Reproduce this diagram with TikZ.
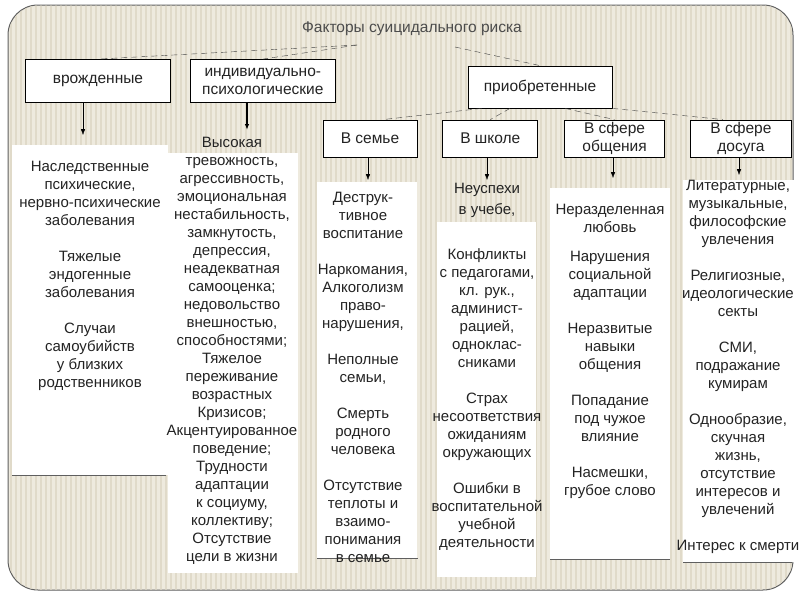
\documentclass[tikz,border=0pt]{standalone}
\usepackage{fontspec}
\setmainfont{Liberation Sans}
\usetikzlibrary{positioning,arrows.meta}
\definecolor{paper}{RGB}{238,234,222}
\definecolor{stripe}{RGB}{224,218,201}
\definecolor{rim}{RGB}{95,95,95}
\definecolor{ink}{RGB}{35,35,35}
\def\Title{Факторы суицидального риска}
\newcommand{\blankln}{\\[18pt]}

\begin{document}
\begin{tikzpicture}[x=1pt,y=-1pt,% one unit = one pixel of the slide, y going down
      every node/.style={
        align=center,     % so that "\\" breaks the lines
        text=ink,
        inner sep=1pt
      },
      head/.style={rectangle,draw=black,line width=0.8pt,fill=white,font=\fontsize{15.5}{18}\selectfont},
      toprow/.style={head,minimum width=145,minimum height=43},
      subrow/.style={head,minimum width=95,minimum height=37},
      txt/.style={anchor=north,inner sep=0pt,font=\fontsize{15}{18}\selectfont},
      dashline/.style={draw=black!75,thin,dash pattern=on 6pt off 4pt},
      arr/.style={draw=black,thin,-{Latex[length=6pt,width=4.5pt]}}
    ]
    \useasboundingbox (0,0) rectangle (800,600);
    % striped slide background
    \draw[rim,line width=1pt,fill=paper,rounded corners=30] (8,5) rectangle (793,590);
    \begin{scope}
      \clip[rounded corners=30] (8.5,5.5) rectangle (792.5,589.5);
      \foreach \x in {11,16,...,791}
        \draw[stripe,line width=1.3pt] (\x,5) -- (\x,590);
    \end{scope}

    % white panels under the lists
    \fill[white] (12,145) rectangle (168,475);
    \fill[white] (168,153) rectangle (298,573);
    \fill[white] (317,182) rectangle (417,558);
    \fill[white] (437,222) rectangle (536,577);
    \fill[white] (550,188) rectangle (670,559);
    \fill[white] (683,180) rectangle (797,562);
    \draw[rim,line width=1pt] (12,475) -- (166,475) (317,558) -- (418,558)
      (550,559) -- (670,559) (683,562) -- (792,562);

    \node[font=\fontsize{15.5}{18}\selectfont,text=black!70](title) at (412,29){\Title};
    \node[toprow](vr) at (98,81){врожденные};
    \node[toprow](ind)[right=19pt of vr]{индивидуально-\\психологические};
    \node[toprow,minimum width=144,minimum height=42](pri) at (540,87){приобретенные};
    \node[subrow,minimum width=94](sem) at (370,138.5){В семье};
    \node[subrow](shk)[right=25pt of sem]{В школе};
    \node[subrow,minimum width=100](obsh)[right=26pt of shk]{В сфере\\общения};
    \node[subrow,minimum width=101](dos)[right=25pt of obsh]{В сфере\\досуга};

    % free ends of the connectors
    \coordinate (tl) at (357,45);
    \coordinate (tr) at (455,47);
    \coordinate (avr) at (83,135);
    \coordinate (aind) at (247,130);
    \coordinate (asem) at (368,180);
    \coordinate (ashk) at (487,180);
    \coordinate (aobsh) at (613,178);
    \coordinate (ados) at (739,175);

    \path[dashline]
    (tl) edge [] (vr.north)
    (tl) edge [] (ind.north)
    (tr) edge [] (pri.north)
    ([xshift=14pt]pri.south west) edge [] ([xshift=13pt]sem.north)
    ([xshift=-30pt]pri.south) edge [] (shk.north)
    ([xshift=25pt]pri.south) edge [] (obsh.north)
    (pri.south east) edge [] ([xshift=-18pt]dos.north)
    ;
    \path
    (avr |- vr.south) edge [arr] (avr)
    (aind |- ind.south) edge [arr,line width=1.2pt] (aind)
    (asem |- sem.south) edge [arr] (asem)
    (ashk |- shk.south) edge [arr] (ashk)
    (aobsh |- obsh.south) edge [arr] (aobsh)
    (ados |- dos.south) edge [arr] (ados)
    ;

    % lists of factors
    \node[txt](tvr) at (90,161){Наследственные\\психические,\\нервно-психические\\заболевания\blankln
      Тяжелые\\эндогенные\\заболевания\blankln
      Случаи\\самоубийств\\у близких\\родственников};
    \node[txt](tind) at (232,137){Высокая\\тревожность,\\агрессивность,\\эмоциональная\\нестабильность,\\замкнутость,\\депрессия,\\неадекватная\\самооценка;\\недовольство\\внешностью,\\способностями;\\Тяжелое\\переживание\\возрастных\\Кризисов;\\Акцентуированное\\поведение;\\Трудности\\адаптации\\к социуму,\\коллективу;\\Отсутствие\\цели в жизни};
    \node[txt](tsem) at (363,192){Деструк-\\тивное\\воспитание\blankln
      Наркомания,\\Алкоголизм\\право-\\нарушения,\blankln
      Неполные\\семьи,\blankln
      Смерть\\родного\\человека\blankln
      Отсутствие\\теплоты и\\взаимо-\\понимания\\в семье};
    \node[txt](tshk) at (487,183){Неуспехи\\[3pt]в учебе,\\[27pt]
      Конфликты\\с педагогами,\\кл. рук.,\\админист-\\рацией,\\одноклас-\\сниками\blankln
      Страх\\несоответствия\\ожиданиям\\окружающих\blankln
      Ошибки в\\воспитательной\\учебной\\деятельности};
    \node[txt](tobsh) at (610,204){Неразделенная\\любовь\\[11pt]
      Нарушения\\социальной\\адаптации\blankln
      Неразвитые\\навыки\\общения\blankln
      Попадание\\под чужое\\влияние\blankln
      Насмешки,\\грубое слово};
    \node[txt](tdos) at (738,180){Литературные,\\музыкальные,\\философские\\увлечения\blankln
      Религиозные,\\идеологические\\секты\blankln
      СМИ,\\подражание\\кумирам\blankln
      Однообразие,\\скучная\\жизнь,\\отсутствие\\интересов и\\увлечений\blankln
      Интерес к смерти};
  \end{tikzpicture}
\end{document}
